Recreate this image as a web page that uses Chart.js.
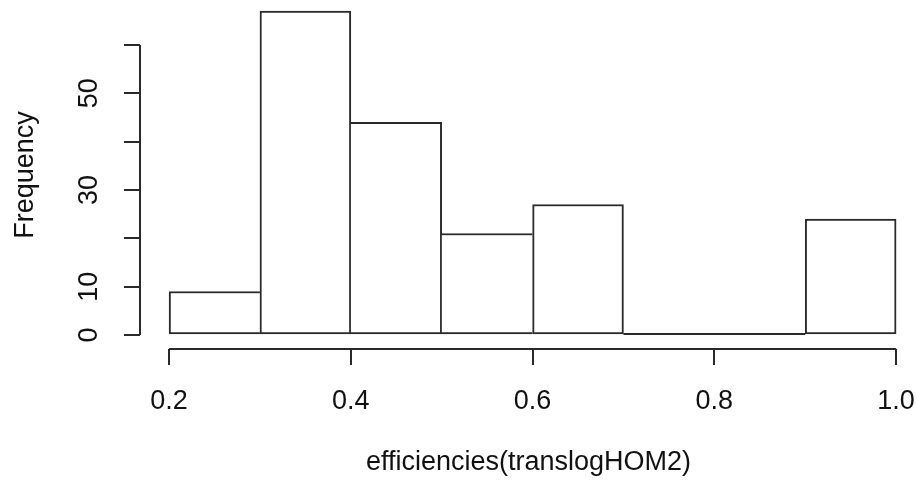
<!DOCTYPE html>
<html>
<head>
<meta charset="utf-8">
<script src="https://cdn.jsdelivr.net/npm/chart.js@4.4.0/dist/chart.umd.min.js"></script>
<style>
  html, body { margin: 0; padding: 0; background: #fff; }
  #wrap { width: 917px; height: 484px; }
</style>
</head>
<body>
<div id="wrap"><canvas id="hist" width="917" height="484"></canvas></div>
<script>
// histogram of efficiencies(translogHOM2)
const breaks = [0.2, 0.3, 0.4, 0.5, 0.6, 0.7, 0.8, 0.9, 1.0];
const counts = [9, 67, 44, 21, 27, 0, 0, 24];
const xTicks = [0.2, 0.4, 0.6, 0.8, 1.0];
const xTickLabels = ["0.2", "0.4", "0.6", "0.8", "1.0"];
const yTicks = [0, 10, 20, 30, 40, 50, 60];
const yTickLabels = ["0", "10", "", "30", "", "50", ""];

const lineCol = "#2a2a2a";
const lw = 2;
const fontR = { family: '"Liberation Sans", Arial, sans-serif', size: 27, lineHeight: 1.2 };

let pontos = counts.map((c, i) => ({ x: (breaks[i] + breaks[i + 1]) / 2, y: c }));

// R draws the axis lines only between first and last tick, and empty bins as a flat line
const eixosR = {
    id: "eixosR",
    afterDatasetsDraw(chart) {
        const ctx = chart.ctx;
        const x = chart.scales.x;
        const y = chart.scales.y;
        const area = chart.chartArea;
        ctx.save();
        ctx.strokeStyle = lineCol;
        ctx.lineWidth = lw;
        ctx.beginPath();
        ctx.moveTo(x.getPixelForValue(xTicks[0]), area.bottom);
        ctx.lineTo(x.getPixelForValue(xTicks[xTicks.length - 1]), area.bottom);
        ctx.moveTo(area.left, y.getPixelForValue(yTicks[0]));
        ctx.lineTo(area.left, y.getPixelForValue(yTicks[yTicks.length - 1]));
        let y0 = y.getPixelForValue(0) - lw / 2;
        counts.forEach((c, i) => {
            if (c === 0) {
                ctx.moveTo(x.getPixelForValue(breaks[i]), y0);
                ctx.lineTo(x.getPixelForValue(breaks[i + 1]), y0);
            }
        });
        ctx.stroke();
        ctx.restore();
    }
};

function bordas(ctx) {
    const i = ctx.dataIndex;
    const c = counts[i];
    const p = i > 0 ? counts[i - 1] : 0;
    const n = i < counts.length - 1 ? counts[i + 1] : 0;
    return {
        top: lw,
        bottom: lw,
        left: (p >= c && p > 0) ? 0 : lw,
        right: (c >= n) ? lw : 0
    };
}

new Chart(document.getElementById("hist").getContext("2d"), {
    type: "bar",
    data: {
        datasets: [{
            data: pontos,
            backgroundColor: "#ffffff",
            borderColor: lineCol,
            borderWidth: bordas,
            borderSkipped: false,
            barPercentage: 1,
            categoryPercentage: 1
        }]
    },
    options: {
        responsive: false,
        animation: false,
        devicePixelRatio: 1,
        layout: { padding: { top: 1, left: 0, right: 0, bottom: 0 } },
        plugins: {
            legend: { display: false },
            tooltip: { enabled: false }
        },
        scales: {
            x: {
                type: "linear",
                min: 0.168,
                max: 1.023,
                offset: false,
                afterBuildTicks: s => { s.ticks = xTicks.map(v => ({ value: v })); },
                afterFit: s => { s.height = 135; s.paddingLeft = 0; s.paddingRight = 0; },
                border: { display: false },
                grid: {
                    offset: false,
                    drawOnChartArea: false,
                    drawTicks: true,
                    tickLength: 16,
                    color: lineCol,
                    lineWidth: lw
                },
                ticks: {
                    padding: 20,
                    color: "#111",
                    font: fontR,
                    maxRotation: 0,
                    autoSkip: false,
                    callback: (v, i) => xTickLabels[i]
                },
                title: {
                    display: true,
                    text: "efficiencies(translogHOM2)",
                    color: "#111",
                    font: fontR,
                    padding: { top: 7, bottom: 5 }
                }
            },
            y: {
                min: -2.9,
                max: 69.1,
                afterBuildTicks: s => { s.ticks = yTicks.map(v => ({ value: v })); },
                afterFit: s => { s.width = 140; s.paddingTop = 0; s.paddingBottom = 0; },
                border: { display: false },
                grid: {
                    drawOnChartArea: false,
                    drawTicks: true,
                    tickLength: 16,
                    color: lineCol,
                    lineWidth: lw
                },
                ticks: {
                    padding: 19,
                    minRotation: 90,
                    maxRotation: 90,
                    crossAlign: "center",
                    color: "#111",
                    font: fontR,
                    autoSkip: false,
                    callback: (v, i) => yTickLabels[i]
                },
                title: {
                    display: true,
                    text: "Frequency",
                    color: "#111",
                    font: fontR,
                    padding: { top: 9, bottom: 0 }
                }
            }
        }
    },
    plugins: [eixosR]
});
</script>
</body>
</html>
